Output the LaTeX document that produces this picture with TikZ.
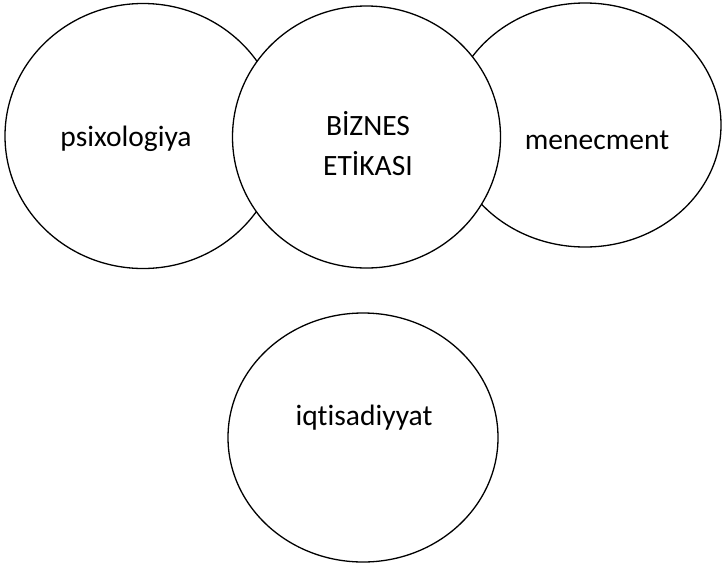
\documentclass[tikz,border=0pt]{standalone}
\usepackage{fontspec}
\setmainfont{Carlito}[Ligatures=NoCommon]
\usetikzlibrary{shapes.geometric}
\begin{document}
\begin{tikzpicture}[x=1pt,y=-1pt,
  blob/.style={draw=black,line width=1.3pt,fill=white,ellipse,inner sep=0pt},
  word/.style={font=\fontsize{29.5}{40}\selectfont,anchor=base,inner sep=0pt,text=black}]
  \useasboundingbox (0,0) rectangle (722,568);
  % outer circles first, the centre one covers their inner arcs
  \node[blob,minimum width=276pt,minimum height=265pt] (psy) at (143,136) {};
  \node[blob,minimum width=272pt,minimum height=244pt] (men) at (585,125) {};
  \node[blob,minimum width=268pt,minimum height=262pt] (biz) at (366.5,137) {};
  \node[blob,minimum width=270pt,minimum height=249pt] (iqt) at (363,437.5) {};
  % labels
  \node[word] (tpsy) at (126,146) {psixologiya};
  \node[word] (tmen) at (597,149) {menecment};
  \node[word] (tbiz1) at (368,135) {BİZNES};
  \node[word] (tbiz2) at (368,175) {ETİKASI};
  \node[word] (tiqt) at (364,425) {iqtisadiyyat};
\end{tikzpicture}
\end{document}
